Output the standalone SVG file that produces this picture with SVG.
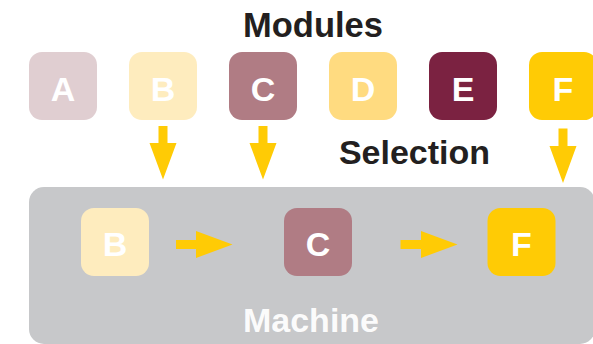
<svg xmlns="http://www.w3.org/2000/svg" width="593" height="344" viewBox="0 0 593 344">
<style>
.t{font-family:"Liberation Sans",Arial,sans-serif;font-weight:bold;font-size:34px;text-anchor:middle}
.dark{fill:#231f20}
.w{fill:#ffffff}
.arr{fill:#ffcb05}
.a{fill:#e0ced1}.b{fill:#feecbe}.c{fill:#b07c84}.d{fill:#ffdb80}.e{fill:#7b2241}.f{fill:#ffcb05}
</style>
<rect width="593" height="344" fill="#ffffff"/>
<g id="machine">
<rect x="29" y="187" width="566" height="157" rx="15" fill="#c7c8ca"/>
<text class="t w" x="311" y="331.5" fill-opacity="0.95">Machine</text>
</g>
<text class="t dark" x="313" y="36.5" style="font-size:34.5px">Modules</text>
<text class="t dark" x="414.5" y="164">Selection</text>
<g id="module-A"><rect class="a" x="29" y="52" width="68" height="68" rx="13"/><text class="t w" x="63" y="101">A</text></g>
<g id="module-B"><rect class="b" x="129" y="52" width="68" height="68" rx="13"/><text class="t w" x="163" y="101">B</text></g>
<g id="module-C"><rect class="c" x="229" y="52" width="68" height="68" rx="13"/><text class="t w" x="263" y="101">C</text></g>
<g id="module-D"><rect class="d" x="329" y="52" width="68" height="68" rx="13"/><text class="t w" x="363" y="101">D</text></g>
<g id="module-E"><rect class="e" x="429" y="52" width="68" height="68" rx="13"/><text class="t w" x="463" y="101">E</text></g>
<g id="module-F"><rect class="f" x="529" y="52" width="68" height="68" rx="13"/><text class="t w" x="563" y="101">F</text></g>
<g id="machine-B"><rect class="b" x="81" y="208" width="68" height="68" rx="13"/><text class="t w" x="115" y="255.5">B</text></g>
<g id="machine-C"><rect class="c" x="284" y="208" width="68" height="68" rx="13"/><text class="t w" x="318" y="255.5">C</text></g>
<g id="machine-F"><rect class="f" x="487.5" y="208" width="68" height="68" rx="13"/><text class="t w" x="521.5" y="255.5">F</text></g>
<g id="connectors">
<polygon class="arr" points="158.5,126 167.5,126 167.5,143 176.5,143 163,179.5 149.5,143 158.5,143"/>
<polygon class="arr" points="258.5,126 267.5,126 267.5,143 276.5,143 263,179.5 249.5,143 258.5,143"/>
<polygon class="arr" points="558.5,128.5 567.5,128.5 567.5,146 576.5,146 563,183 549.5,146 558.5,146"/>
<polygon class="arr" points="176,240 196,240 196,231 232.5,244.5 196,258 196,249 176,249"/>
<polygon class="arr" points="400.5,240 421,240 421,231 457.5,244.5 421,258 421,249 400.5,249"/>
</g>
</svg>
